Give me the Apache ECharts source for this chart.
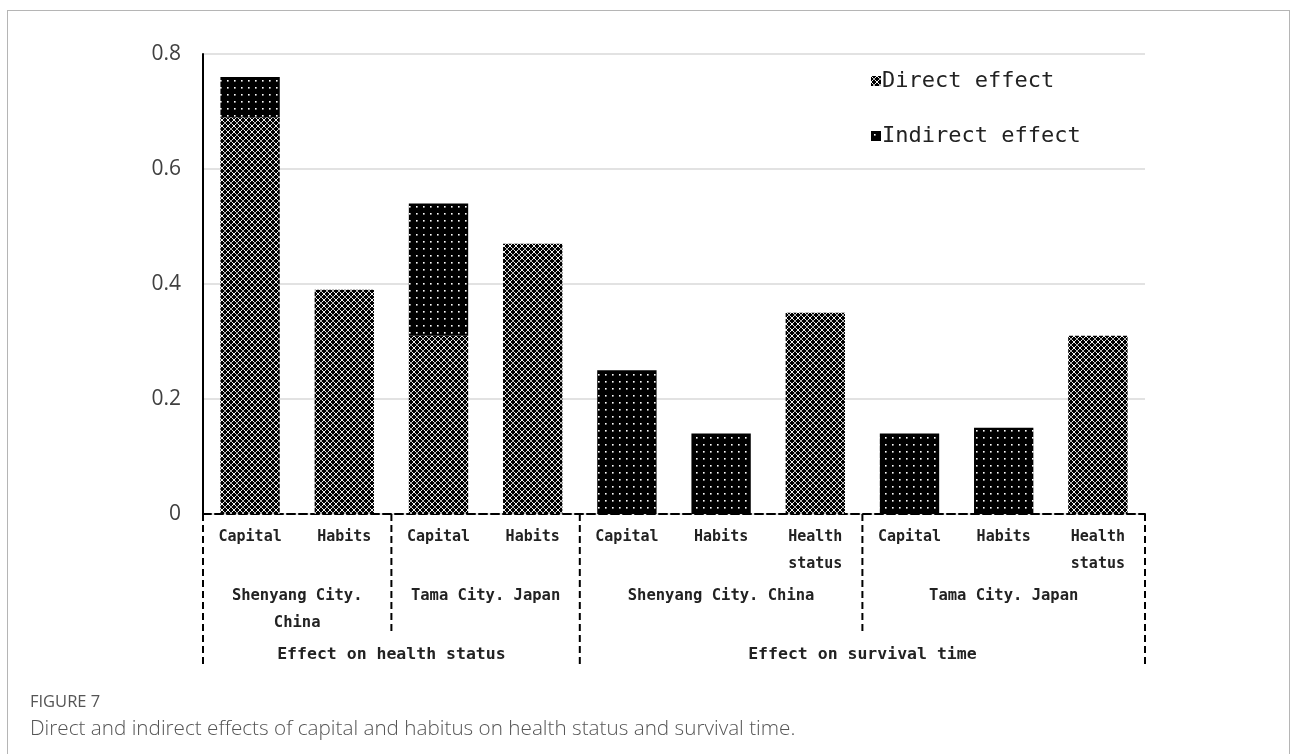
<!DOCTYPE html>
<html>
<head>
<meta charset="utf-8">
<script src="https://cdn.jsdelivr.net/npm/echarts@6/dist/echarts.min.js"></script>
<style>
  html, body { margin: 0; padding: 0; background: #fff; }
  #frame { position: absolute; left: 7px; top: 10px; width: 1283px; height: 800px;
           border: 1.5px solid #b5b5b5; border-bottom: none; box-sizing: border-box; }
  #chart { position: absolute; left: 0; top: 0; width: 1293px; height: 754px; }
  #fig { position: absolute; left: 30px; top: 689px; font-family: "Open Sans", sans-serif;
         font-size: 16.5px; color: #555; font-weight: 500; }
  #cap { position: absolute; left: 30px; top: 713px; font-family: "Open Sans", sans-serif;
         font-size: 20.7px; color: #555; font-weight: 300; }
</style>
</head>
<body>
<div id="frame"></div>
<div id="chart"></div>
<div id="fig">FIGURE 7</div>
<div id="cap">Direct and indirect effects of capital and habitus on health status and survival time.</div>
<script>
// ---- data ----
const categories = ["Capital", "Habits", "Capital", "Habits",
                    "Capital", "Habits", "Health\nstatus", "Capital", "Habits", "Health\nstatus"];
const directEffect   = [0.69, 0.39, 0.31, 0.47, null, null, 0.35, null, null, 0.31];
const indirectEffect = [0.07, null, 0.23, null, 0.25, 0.14, null, 0.14, 0.15, null];
const cityGroups = [
  { label: "Shenyang City.\nChina", start: 0, end: 1 },
  { label: "Tama City. Japan",      start: 2, end: 3 },
  { label: "Shenyang City. China",  start: 4, end: 6 },
  { label: "Tama City. Japan",      start: 7, end: 9 }
];
const effectGroups = [
  { label: "Effect on health status",  start: 0, end: 3 },
  { label: "Effect on survival time",  start: 4, end: 9 }
];
const yTicks = { min: 0, max: 0.8, interval: 0.2 };

// ---- patterns ----
function directPattern() {
  const c = document.createElement('canvas');
  c.width = 6; c.height = 6;
  const g = c.getContext('2d');
  g.fillStyle = '#000'; g.fillRect(0, 0, 6, 6);
  g.strokeStyle = '#f2f2f2'; g.lineWidth = 1.0;
  g.beginPath();
  g.moveTo(-1, -1); g.lineTo(7, 7);
  g.moveTo(7, -1); g.lineTo(-1, 7);
  g.stroke();
  g.fillStyle = '#000';
  g.fillRect(2.5, 2.5, 1, 1);
  return c;
}
function indirectPattern() {
  const c = document.createElement('canvas');
  c.width = 7; c.height = 7;
  const g = c.getContext('2d');
  g.fillStyle = '#000'; g.fillRect(0, 0, 7, 7);
  g.fillStyle = '#fff';
  g.fillRect(3, 3, 1.6, 1.6);
  return c;
}
const directFill = { image: directPattern(), repeat: 'repeat' };
const indirectFill = { image: indirectPattern(), repeat: 'repeat' };

const monoFont = '"DejaVu Sans Mono", "Liberation Mono", monospace';

const chart = echarts.init(document.getElementById('chart'), null, { renderer: 'canvas' });
const option = {
  backgroundColor: 'transparent',
  animation: false,
  grid: { left: 203, right: 148, top: 54, bottom: 240, containLabel: false },
  legend: {
    orient: 'vertical',
    left: 866, top: 65,
    itemGap: 33,
    itemWidth: 10, itemHeight: 10,
    icon: 'rect',
    textStyle: { fontFamily: monoFont, fontSize: 22, color: '#222', padding: [0, 0, 0, -4] },
    data: ['Direct effect', 'Indirect effect']
  },
  xAxis: {
    type: 'category',
    data: categories,
    axisLine: { lineStyle: { color: '#000', width: 2, type: [8, 4] } },
    axisTick: { show: false },
    axisLabel: {
      interval: 0, margin: 10,
      fontFamily: monoFont, fontSize: 15, fontWeight: 'bold',
      color: '#222', lineHeight: 27
    }
  },
  yAxis: {
    type: 'value',
    min: yTicks.min, max: yTicks.max, interval: yTicks.interval,
    axisLine: { show: true, lineStyle: { color: '#000', width: 2 } },
    axisTick: { show: false },
    axisLabel: { fontFamily: '"Open Sans", "Noto Sans", sans-serif', fontSize: 21, color: '#404040', margin: 22 },
    splitLine: { lineStyle: { color: '#d9d9d9', width: 1.5 } }
  },
  series: [
    { name: 'Direct effect', type: 'bar', stack: 'total', barWidth: '63%',
      data: directEffect, itemStyle: { color: directFill } },
    { name: 'Indirect effect', type: 'bar', stack: 'total', barWidth: '63%',
      data: indirectEffect, itemStyle: { color: indirectFill } }
  ]
};
chart.setOption(option);

// ---- hierarchical axis decorations, positioned via the chart's own scales ----
function cx(i) { return chart.convertToPixel({ xAxisIndex: 0 }, i); }
const band = cx(1) - cx(0);
function boundary(i) { return cx(0) - band / 2 + i * band; }
const y0 = chart.convertToPixel({ yAxisIndex: 0 }, 0);

const graphics = [];
const dash = [7, 4];
function vline(x, len) {
  graphics.push({ type: 'line', silent: true,
    shape: { x1: x, y1: y0, x2: x, y2: y0 + len },
    style: { stroke: '#000', lineWidth: 2, lineDash: dash } });
}
[0, 4, 10].forEach(b => vline(boundary(b), 151));
[2, 7].forEach(b => vline(boundary(b), 117));

cityGroups.forEach(gp => {
  const x = (boundary(gp.start) + boundary(gp.end + 1)) / 2;
  graphics.push({ type: 'text', silent: true, x: x, y: y0 + 68,
    style: { text: gp.label, fontFamily: monoFont, fontSize: 15.5, fontWeight: 'bold',
             fill: '#222', align: 'center', verticalAlign: 'top', lineHeight: 27 } });
});
effectGroups.forEach(gp => {
  const x = (boundary(gp.start) + boundary(gp.end + 1)) / 2;
  graphics.push({ type: 'text', silent: true, x: x, y: y0 + 132,
    style: { text: gp.label, fontFamily: monoFont, fontSize: 16.5, fontWeight: 'bold',
             fill: '#222', align: 'center', verticalAlign: 'top' } });
});
chart.setOption({ graphic: graphics });
</script>
</body>
</html>
